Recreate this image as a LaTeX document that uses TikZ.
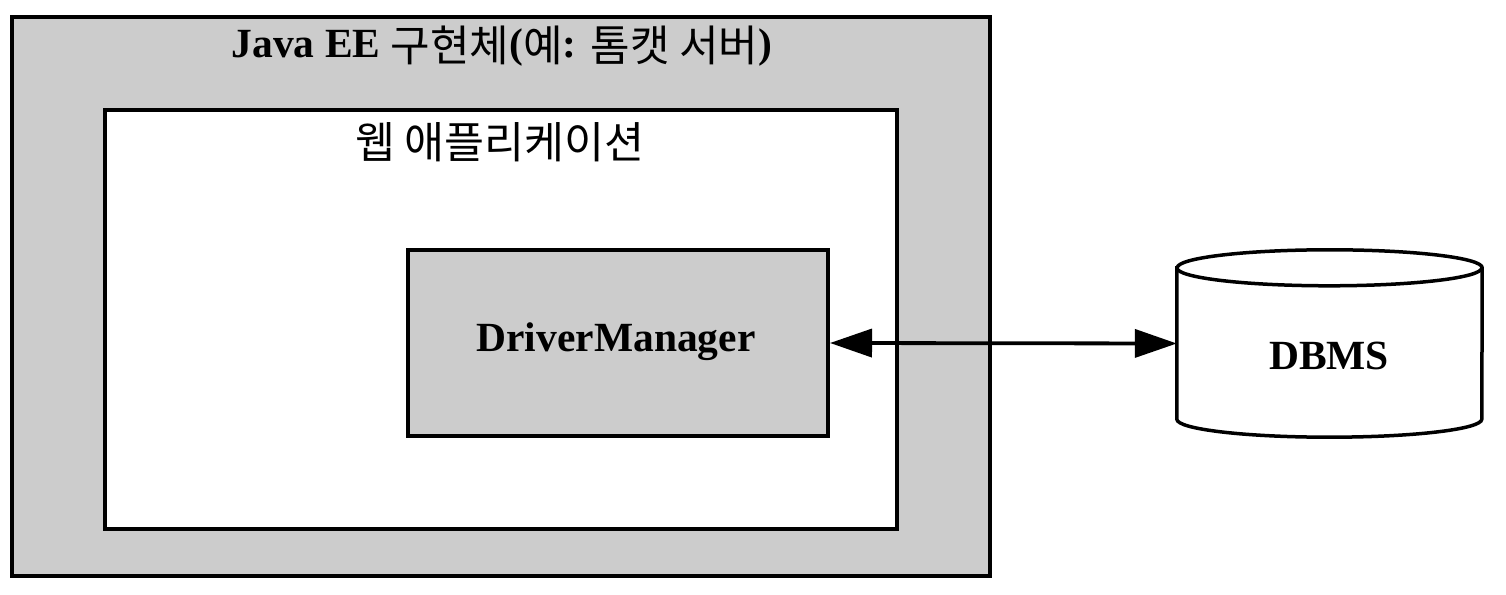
\documentclass[tikz,border=0pt]{standalone}
\usepackage{fontspec}
\setmainfont{Liberation Serif}
\newfontfamily\kr{Noto Sans CJK KR}
\usetikzlibrary{arrows.meta}
\newcommand{\korlow}[1]{\raisebox{-4pt}{\fontsize{43}{50}\selectfont\kr\mdseries #1}}
\tikzset{
  outerbox/.style={draw=black, fill=boxgray, line width=4pt},
  innerbox/.style={draw=black, fill=white, line width=4pt},
  dmbox/.style={draw=black, fill=boxgray, line width=4pt, minimum width=420pt, minimum height=186pt, inner sep=0pt},
  cylbody/.style={minimum width=305pt, minimum height=151pt, inner sep=0pt},
  cylline/.style={draw=black, line width=3.5pt},
  lbl/.style={font=\fontsize{41.5}{48}\selectfont\bfseries, inner sep=0pt, anchor=base},
  krlbl/.style={font=\fontsize{43.5}{50}\selectfont\kr, inner sep=0pt},
  link/.style={line width=3.8pt, {Triangle[length=42pt,width=28pt]}-{Triangle[length=42pt,width=28pt]}}
}
\definecolor{boxgray}{HTML}{CCCCCC}
\begin{document}
\begin{tikzpicture}[x=1pt,y=1pt]
\useasboundingbox (0,0) rectangle (1506,594);
% outer container
\draw[outerbox] (12,18) rectangle (990,577);
\node[lbl] (title) at (502,536) {Java EE \korlow{구현체}(\korlow{예}: \korlow{톰캣 서버})};
% web application
\draw[innerbox] (105,65) rectangle (897,484);
\node[krlbl] (webapp) at (500,452) {웹 애플리케이션};
% DriverManager
\node[dmbox] (dm) at (618,251) {};
\node[lbl] (dmlabel) at (616,242) {DriverManager};
% DBMS cylinder
\node[cylbody] (dbms) at (1329.5,250.5) {};
\filldraw[cylline, fill=white] (dbms.north west) -- (dbms.south west)
  arc[start angle=180, end angle=360, x radius=152.5, y radius=18]
  -- (dbms.north east)
  arc[start angle=0, end angle=180, x radius=152.5, y radius=18] -- cycle;
\draw[cylline] (dbms.north west) arc[start angle=180, end angle=360, x radius=152.5, y radius=18];
\node[lbl] (dbmslabel) at (1329,224) {DBMS};
% connector
\draw[link] (dm.east) -- (dbms.west);
\end{tikzpicture}
\end{document}
